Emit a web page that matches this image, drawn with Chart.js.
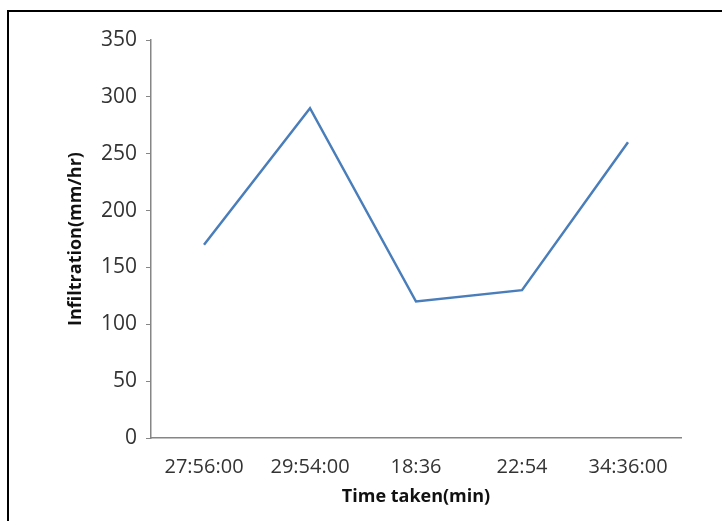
<!DOCTYPE html>
<html lang="en">
<head>
<meta charset="UTF-8">
<title>Infiltration vs time taken</title>
<script src="https://cdn.jsdelivr.net/npm/chart.js@4"></script>
<style>
  html, body { margin: 0; padding: 0; background: #fff; }
  .wrap { position: relative; width: 722px; height: 521px; }
  .frame { position: absolute; left: 7px; top: 10px; right: 0; bottom: 0;
           border-top: 2px solid #000; border-left: 2px solid #000; pointer-events: none; }
  canvas { position: absolute; left: 0; top: 0; }
</style>
</head>
<body>
<div class="wrap">
  <canvas id="grafico" width="722" height="521"></canvas>
  <div class="frame"></div>
</div>

<script>
// dados
const tempos = ['27:56:00', '29:54:00', '18:36', '22:54', '34:36:00'];
const infiltracao = [170, 290, 120, 130, 260];
const yMin = 0, yMax = 350, yPasso = 50;

const fonte = "'Open Sans', 'Liberation Sans', sans-serif";
const corEixo = '#868686';
const corTexto = '#333333';

new Chart(document.getElementById('grafico'), {
  type: 'line',
  data: {
    labels: tempos,
    datasets: [{
      label: 'Infiltration',
      data: infiltracao,
      borderColor: '#4A7EBB',
      borderWidth: 2.5,
      pointRadius: 0,
      tension: 0,
      fill: false
    }]
  },
  options: {
    responsive: false,
    animation: false,
    layout: { padding: { left: 60, top: 40, right: 41, bottom: 0 } },
    plugins: { legend: { display: false }, tooltip: { enabled: false } },
    scales: {
      x: {
        offset: true,
        grid: { display: false },
        border: { display: true, color: corEixo, width: 1.5 },
        ticks: { color: corTexto, font: { family: fonte, size: 20 }, padding: 9, maxRotation: 0 },
        title: { display: true, text: 'Time taken(min)', color: '#111',
                 font: { family: fonte, size: 18, weight: 'bold' }, padding: { top: 0, bottom: 13 } },
        afterFit: s => { s.height = 83; }
      },
      y: {
        min: yMin, max: yMax,
        grid: { drawOnChartArea: false, drawTicks: true, tickLength: 5, color: corEixo },
        border: { display: true, color: corEixo, width: 1.5 },
        ticks: { stepSize: yPasso, color: corTexto, font: { family: fonte, size: 21 }, padding: 9 },
        title: { display: true, text: 'Infiltration(mm/hr)', color: '#111',
                 font: { family: fonte, size: 18, weight: 'bold' }, padding: { top: 5, bottom: 0 } },
        afterFit: s => { s.width = 91; }
      }
    }
  }
});
</script>
</body>
</html>
